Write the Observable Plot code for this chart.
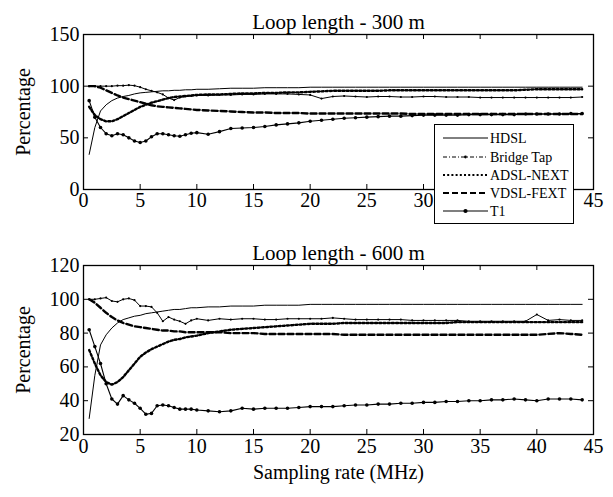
<!DOCTYPE html>
<html><head><meta charset="utf-8">
<script src="https://cdn.jsdelivr.net/npm/d3@7"></script>
<script src="https://cdn.jsdelivr.net/npm/@observablehq/plot@0.6"></script>
<style>
body{margin:0;background:#fff;}
#wrap{position:relative;width:613px;height:497px;font-family:"Liberation Serif","Times New Roman",serif;}
#top,#bot{position:absolute;left:0;}
#top{top:0px}
#bot{top:215px}
#legend{position:absolute;left:434px;top:124px;width:140px;height:100px;border:1.3px solid #000;background:#fff;box-sizing:border-box}
</style></head>
<body><div id="wrap"><div id="top"></div><div id="bot"></div><div id="legend"></div></div>
<script>
// ---------- data ----------
const seriesNames = ["HDSL", "Bridge Tap", "ADSL-NEXT", "VDSL-FEXT", "T1"];
const samplingRate = [0.5,1,1.5,2,2.5,3,3.5,4,4.5,5,5.5,6,6.5,7,7.5,8,8.5,9,9.5,10,
  11,12,13,14,15,16,17,18,19,20,21,22,23,24,25,26,27,28,29,30,31,32,33,34,35,36,37,38,39,40,41,42,43,44];

// Loop length 300 m
const hdsl300 = [34,60,76,82,86,88.5,90,91,92.5,93.5,94,94.5,95,95.5,95.5,96,96,96.5,96.5,97,
  97,97.5,98,98,98,98.5,98.5,98.5,98.5,99, 99,99,99,99,99,99,99,99,99,99, 99,99,99,99,99,99,99,99,99,99, 99,99,99,99];
const bridge300 = [100,100,100,100,100,100.5,100.5,101,100.5,99,97,95.5,94,92,88.5,86.5,89,90,90.5,91,
  91,91.5,91.5,92,92,92.5,92.5,92.5,92,91.5, 88,90,90.5,90,89.5,90,90,89.5,89.5,90, 90,89.5,89.5,89.5,89,89,89,89,89,89, 89,89,89,89.5];
const adsl300 = [80,72,68,66,66,68,71,74,77,80,82,84,85.5,87,88.5,89.5,90,90.5,91,91.5,
  92,92,92.5,93,93,93.5,93.5,94,94,94.5, 95,95.5,95.5,95.5,95.5,95.5,96,96,96,96, 96,96,96,96,96,96,96,96,96.5,97, 97,97,97,97];
const vdsl300 = [100,100,98.5,96,93.5,91,89,87.5,86,84.5,83,81.5,80.5,80,79.5,79,78.5,78,77.5,77,
  76.5,76,75.5,75,74.5,74.5,74,74,74,73.5, 73.5,73.5,73.5,73.5,73.5,73.5,73.5,73.5,73,73, 73,73,73,73,73,73,73,73,73,73, 73,73,73,73];
const t1_300 = [86,70,60,54,52,54,53,50,47,45.5,47,51,54,54,53,52,51.5,53,54.5,55,
  53.5,56,59,59.5,60,61,62.5,63.5,64.5,66, 67,68,69,69.5,70,70.5,71,71,71.5,72, 72,72,72,72.5,72.5,72.5,72.5,72.5,73,73, 73,73,73.5,73.5];

// Loop length 600 m
const hdsl600 = [29.5,55,73,79,83,86,88,89,90,90.5,91.5,92,92.5,93,93.5,94,94,94.5,95,95,
  95.5,95.5,96,96,96,96.5,96.5,96.5,96.5,97, 97,97,97,97,97,97,97,97,97,97, 97,97,97,97,97,97,97,97,97,97, 97,97,97,97];
const bridge600 = [100,100,100.5,101,99,98.5,100,100.5,99.5,96,96,95.5,92,87,89.5,88,87,85.5,87.5,88.5,
  87.5,88.5,88,88.5,88.5,88,88,88.5,88.5,88.5, 88.5,89,88.5,88,88,88,88,88,87.5,87.5, 87.5,87.5,87.5,87,87,87,87,87,87,91, 87.5,88,87.5,87.5];
const adsl600 = [70,62,55,51,49.5,51,54,58,62,66,68.5,70.5,72,73.5,75,76,76.5,77.5,78,78.5,
  80,81,82,82.5,83,83.5,84,84.5,85,85.5, 85.5,85.5,86,86,86,86,86,86,86,86, 86,86,86.5,86.5,86.5,86.5,86.5,86.5,86.5,86.5, 86.5,86.5,86.5,86.5];
const vdsl600 = [100,98,95,92,89.5,87.5,86,85,84,83.5,83,82.5,82,81.5,81.5,81,81,80.5,80.5,80.5,
  80.5,80.5,80,80,80,79.5,79.5,79.5,79.5,79.5, 79.5,79.5,79,79,79,79,79,79,79,79, 79,79,79,79,79,79,79,79,79,79, 79.5,80,79.5,79];
const t1_600 = [82,72,62,50,41,38,43,40.5,38.5,35.5,32,32.5,37,37.5,37,36,35,35,35,34.5,
  34,33.5,34,35.5,35,35.5,35.5,35.5,36,36.5, 36.5,36.5,37,37.5,37.5,38,38,38.5,38.5,39, 39,39.5,39.5,40,40,40.5,40.5,41,40.5,40, 41,41,41,40.5];

const xTicks = [0,5,10,15,20,25,30,35,40,45];
const xTickLabelsTop = [0,5,10,15,20,25,30,45];   // 35 and 40 are hidden behind the legend
const yTicks300 = [0,50,100,150];
const yTicks600 = [20,40,60,80,100,120];
const titles = ["Loop length - 300 m", "Loop length - 600 m"];
const xLabel = "Sampling rate (MHz)";
const yLabel = "Percentage";

// ---------- styles ----------
const styles = {
  "HDSL":       {w: 1,   dash: null,  r: 0},
  "Bridge Tap": {w: 1,   dash: null,  r: 1.1},
  "ADSL-NEXT":  {w: 2.4, dash: "2,2.2", r: 0},
  "VDSL-FEXT":  {w: 2.4, dash: "6,3", r: 0},
  "T1":         {w: 1.1, dash: null,  r: 1.8}
};
const FONT = '"Liberation Serif","Times New Roman",serif';
const W = 613, ML = 83, MR = 20, TICK = 5;

function panel({values, yDomain, yTicks, xLabels, title, height, mt, mb, xlabel, xpad}) {
  const fw = W - ML - MR, fh = height - mt - mb;
  const marks = [];
  seriesNames.forEach((name, i) => {
    const data = samplingRate.map((x, j) => ({x, y: values[i][j]}));
    const s = styles[name];
    marks.push(Plot.line(data, {x: "x", y: "y", stroke: "black", strokeWidth: s.w, strokeDasharray: s.dash}));
    if (s.r) marks.push(Plot.dot(data, {x: "x", y: "y", r: s.r, fill: "black", stroke: "none"}));
  });
  // inward ticks on all four sides
  marks.push(Plot.tickX(xTicks, {x: d => d, stroke: "black", insetTop: fh - TICK}));
  marks.push(Plot.tickX(xTicks, {x: d => d, stroke: "black", insetBottom: fh - TICK}));
  marks.push(Plot.tickY(yTicks, {y: d => d, stroke: "black", insetRight: fw - TICK}));
  marks.push(Plot.tickY(yTicks, {y: d => d, stroke: "black", insetLeft: fw - TICK}));
  marks.push(Plot.frame({stroke: "black", strokeWidth: 1.3}));
  marks.push(Plot.axisX(xLabels, {tickSize: 0, tickPadding: xpad, fontSize: 20,
    label: xlabel || null, labelAnchor: "center", labelArrow: "none", labelOffset: 44}));
  marks.push(Plot.axisY(yTicks, {tickSize: 0, tickPadding: 4, fontSize: 20,
    label: yLabel, labelAnchor: "center", labelArrow: "none", labelOffset: 68}));
  marks.push(Plot.text([title], {frameAnchor: "top", dy: -6, lineAnchor: "bottom", fontSize: 21}));
  return Plot.plot({
    width: W, height, marginTop: mt, marginBottom: mb, marginLeft: ML, marginRight: MR,
    x: {domain: [0, 45]},
    y: {domain: yDomain},
    style: {fontFamily: FONT, fontSize: "20px", background: "white", color: "black", overflow: "visible"},
    marks
  });
}

document.getElementById("top").append(panel({
  values: [hdsl300, bridge300, adsl300, vdsl300, t1_300],
  yDomain: [0, 150], yTicks: yTicks300, xLabels: xTickLabelsTop, title: titles[0],
  height: 215, mt: 34, mb: 26, xpad: 3
}));
document.getElementById("bot").append(panel({
  values: [hdsl600, bridge600, adsl600, vdsl600, t1_600],
  yDomain: [20, 120], yTicks: yTicks600, xLabels: xTicks, title: titles[1],
  height: 282, mt: 50, mb: 63, xlabel: xLabel, xpad: 4
}));

// ---------- legend ----------
const lg = d3.select("#legend").append("svg").attr("width", 138).attr("height", 98)
  .style("font-family", FONT).style("font-size", "14px");
const rowY = [13, 32, 50, 68, 86];
seriesNames.forEach((name, i) => {
  const s = styles[name];
  const y = rowY[i];
  lg.append("line").attr("x1", 8).attr("x2", 53).attr("y1", y).attr("y2", y)
    .attr("stroke", "black").attr("stroke-width", Math.min(s.w, 2))
    .attr("stroke-dasharray", name === "Bridge Tap" ? "4,2,1,2" : s.dash);
  if (s.r) lg.append("circle").attr("cx", 30.5).attr("cy", y).attr("r", s.r + 0.3).attr("fill", "black");
  lg.append("text").attr("x", 55).attr("y", y).attr("dy", "0.35em").text(name);
});
</script>
</body></html>
